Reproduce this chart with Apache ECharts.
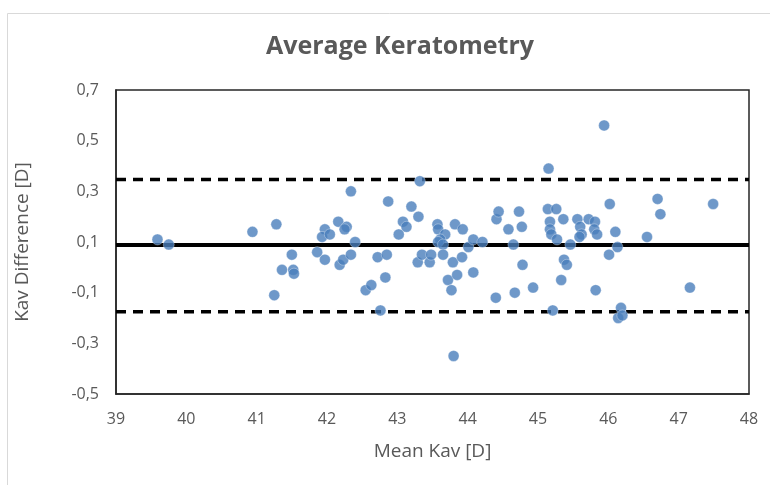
<!DOCTYPE html>
<html>
<head>
<meta charset="utf-8">
<title>Average Keratometry</title>
<script src="https://cdn.jsdelivr.net/npm/echarts@6/dist/echarts.min.js"></script>
<style>
  html, body { margin: 0; padding: 0; background: #fff; }
  #chart { width: 770px; height: 485px; }
</style>
</head>
<body>
<div id="chart"></div>
<script>
// mean of the two measurements (x) and their difference (y)
const meanKav = [
  39.59, 39.75, 40.94, 41.28, 41.25, 41.50, 41.36, 41.52, 41.53, 41.86,
  41.97, 41.97, 41.93, 42.04, 42.16, 42.28, 42.25, 42.34, 42.40, 42.18,
  42.23, 42.34, 42.55, 42.63, 42.83, 42.76, 42.72, 42.85, 42.87, 43.02,
  43.08, 43.13, 43.20, 43.30, 43.32, 43.29, 43.35, 43.46, 43.48, 43.57,
  43.58, 43.68, 43.61, 43.58, 43.65, 43.65, 43.79, 43.92, 43.82, 43.93,
  43.72, 43.85, 43.77, 43.80, 44.01, 44.08, 44.21, 44.08, 44.40, 44.41,
  44.44, 44.58, 44.65, 44.67, 44.73, 44.77, 44.78, 44.93, 45.15, 45.14,
  45.26, 45.17, 45.17, 45.19, 45.36, 45.27, 45.46, 45.37, 45.41, 45.33,
  45.21, 45.56, 45.60, 45.62, 45.59, 45.72, 45.81, 45.80, 45.84, 45.82,
  45.94, 46.02, 46.10, 46.13, 46.01, 46.18, 46.14, 46.20, 46.55, 46.70,
  46.74, 47.16, 47.49
];
const kavDiff = [
  0.11, 0.09, 0.14, 0.17, -0.11, 0.05, -0.01, -0.01, -0.025, 0.06,
  0.03, 0.15, 0.12, 0.13, 0.18, 0.16, 0.15, 0.30, 0.10, 0.01,
  0.03, 0.05, -0.09, -0.07, -0.04, -0.17, 0.04, 0.05, 0.26, 0.13,
  0.18, 0.16, 0.24, 0.20, 0.34, 0.02, 0.05, 0.02, 0.05, 0.17,
  0.15, 0.13, 0.11, 0.10, 0.09, 0.05, 0.02, 0.04, 0.17, 0.15,
  -0.05, -0.03, -0.09, -0.35, 0.08, 0.11, 0.10, -0.02, -0.12, 0.19,
  0.22, 0.15, 0.09, -0.10, 0.22, 0.16, 0.01, -0.08, 0.39, 0.23,
  0.23, 0.18, 0.15, 0.13, 0.19, 0.11, 0.09, 0.03, 0.01, -0.05,
  -0.17, 0.19, 0.16, 0.13, 0.12, 0.19, 0.18, 0.15, 0.13, -0.09,
  0.56, 0.25, 0.14, 0.08, 0.05, -0.16, -0.20, -0.19, 0.12, 0.27,
  0.21, -0.08, 0.25
];

// bias and limits of agreement
const meanDiff = 0.088;
const upperLoA = 0.347;
const lowerLoA = -0.175;
const xRange = [39, 48];

const textColor = '#595959';
const font = 'Open Sans';

const points = meanKav.map((m, i) => [m, kavDiff[i]]);
const hLine = (v) => xRange.map(x => [x, v]);

const chart = echarts.init(document.getElementById('chart'));

const option = {
  animation: false,
  textStyle: { fontFamily: font },
  graphic: [
    {
      type: 'rect',
      shape: { x: 7.5, y: 13.5, width: 800, height: 500 },
      style: { fill: 'none', stroke: '#d9d9d9', lineWidth: 1 },
      silent: true
    }
  ],
  title: {
    text: 'Average Keratometry',
    left: 261,
    top: 29,
    textStyle: { color: textColor, fontSize: 25, fontWeight: 'bold', fontFamily: font }
  },
  grid: {
    left: 116,
    right: 21,
    top: 90,
    bottom: 91,
    show: true,
    borderColor: '#262626',
    borderWidth: 1.5
  },
  xAxis: {
    type: 'value',
    min: 39,
    max: 48,
    interval: 1,
    name: 'Mean Kav [D]',
    nameLocation: 'middle',
    nameGap: 48,
    nameTextStyle: { color: textColor, fontSize: 19, fontFamily: font },
    axisLine: { show: true, onZero: false, lineStyle: { color: '#262626', width: 1.5 } },
    axisTick: { show: false },
    splitLine: { show: false },
    axisLabel: { color: textColor, fontSize: 16, margin: 17, fontFamily: font }
  },
  yAxis: {
    type: 'value',
    min: -0.5,
    max: 0.7,
    interval: 0.2,
    name: 'Kav Difference [D]',
    nameLocation: 'middle',
    nameGap: 84,
    nameTextStyle: { color: textColor, fontSize: 19, fontFamily: font },
    axisLine: { show: true, onZero: false, lineStyle: { color: '#262626', width: 1.5 } },
    axisTick: { show: false },
    splitLine: { show: false },
    axisLabel: {
      color: textColor,
      fontSize: 16,
      margin: 17,
      fontFamily: font,
      formatter: (v) => v.toFixed(1).replace('.', ',')
    }
  },
  series: [
    {
      name: 'Difference',
      type: 'scatter',
      data: points,
      symbol: 'circle',
      symbolSize: 11,
      itemStyle: { color: '#4a7ebb', borderColor: '#ffffff', borderWidth: 0.4 },
      z: 3
    },
    {
      name: 'Mean',
      type: 'line',
      data: hLine(meanDiff),
      symbol: 'none',
      lineStyle: { color: '#000', width: 4 },
      z: 2
    },
    {
      name: 'Upper LoA',
      type: 'line',
      data: hLine(upperLoA),
      symbol: 'none',
      lineStyle: { color: '#000', width: 3.5, type: [10, 7] },
      z: 2
    },
    {
      name: 'Lower LoA',
      type: 'line',
      data: hLine(lowerLoA),
      symbol: 'none',
      lineStyle: { color: '#000', width: 3.5, type: [10, 7] },
      z: 2
    }
  ]
};

chart.setOption(option);
</script>
</body>
</html>
